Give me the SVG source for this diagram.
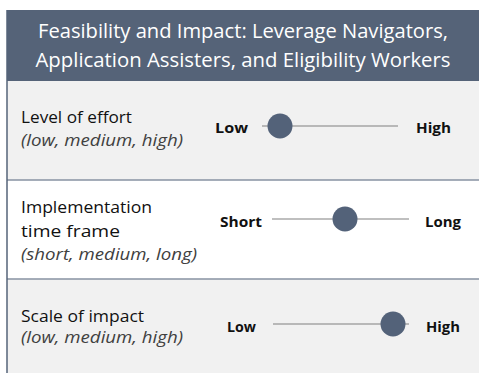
<svg xmlns="http://www.w3.org/2000/svg" width="479" height="373" viewBox="0 0 479 373">
<style>
.hdr{font-family:"Open Sans","Liberation Sans",sans-serif;font-size:20.5px;fill:#ffffff;text-anchor:middle}
.lbl{font-family:"Open Sans","Liberation Sans",sans-serif;font-size:16.5px;fill:#111111}
.sub{font-family:"Open Sans","Liberation Sans",sans-serif;font-size:16px;font-style:italic;fill:#404040}
.end{font-family:"Open Sans","Liberation Sans",sans-serif;font-size:14.5px;font-weight:bold;fill:#111111}
.track{stroke:#808080;stroke-width:1.2}
.knob{fill:#536279}
.div{stroke:#8792a2;stroke-width:1.5}
</style>
<rect x="0" y="0" width="479" height="373" fill="#ffffff"/>
<g id="header">
<rect x="7" y="10" width="472" height="71" fill="#556378"/>
<text class="hdr" x="243" y="38" textLength="410" lengthAdjust="spacingAndGlyphs">Feasibility and Impact: Leverage Navigators,</text>
<text class="hdr" x="243" y="67" textLength="415" lengthAdjust="spacingAndGlyphs">Application Assisters, and Eligibility Workers</text>
</g>
<g id="row-effort">
<rect x="7" y="81" width="472" height="99" fill="#f1f1f1"/>
<text class="lbl" x="21" y="123" textLength="111" lengthAdjust="spacingAndGlyphs">Level of effort</text>
<text class="sub" x="21" y="146" textLength="162" lengthAdjust="spacingAndGlyphs">(low, medium, high)</text>
</g>
<g id="row-time">
<rect x="7" y="180" width="472" height="99" fill="#ffffff"/>
<text class="lbl" x="21" y="213" textLength="131" lengthAdjust="spacingAndGlyphs">Implementation</text>
<text class="lbl" x="21" y="237" textLength="99" lengthAdjust="spacingAndGlyphs">time frame</text>
<text class="sub" x="21" y="260" textLength="176" lengthAdjust="spacingAndGlyphs">(short, medium, long)</text>
</g>
<g id="row-impact">
<rect x="7" y="279" width="472" height="94" fill="#f1f1f1"/>
<text class="lbl" x="21" y="322" textLength="123" lengthAdjust="spacingAndGlyphs">Scale of impact</text>
<text class="sub" x="21" y="343" textLength="162" lengthAdjust="spacingAndGlyphs">(low, medium, high)</text>
</g>
<g id="connectors">
<line class="div" x1="7" y1="180" x2="479" y2="180"/>
<line class="div" x1="7" y1="279" x2="479" y2="279"/>
<line x1="7" y1="10" x2="7" y2="373" stroke="#556378" stroke-width="1.5"/>
<line class="track" x1="262" y1="126" x2="398" y2="126"/>
<line class="track" x1="272" y1="219" x2="409" y2="219"/>
<line class="track" x1="273" y1="324" x2="409" y2="324"/>
</g>
<g id="slider-effort">
<text class="end" x="215" y="133" textLength="33" lengthAdjust="spacingAndGlyphs">Low</text>
<circle class="knob" cx="280" cy="126" r="12.5"/>
<text class="end" x="416" y="133" textLength="35" lengthAdjust="spacingAndGlyphs">High</text>
</g>
<g id="slider-time">
<text class="end" x="220" y="226.5" textLength="42" lengthAdjust="spacingAndGlyphs">Short</text>
<circle class="knob" cx="345" cy="219" r="12.5"/>
<text class="end" x="425" y="226.5" textLength="36" lengthAdjust="spacingAndGlyphs">Long</text>
</g>
<g id="slider-impact">
<text class="end" x="227" y="331.5" textLength="29" lengthAdjust="spacingAndGlyphs">Low</text>
<circle class="knob" cx="393" cy="324" r="12.5"/>
<text class="end" x="426" y="331.5" textLength="34" lengthAdjust="spacingAndGlyphs">High</text>
</g>
</svg>
